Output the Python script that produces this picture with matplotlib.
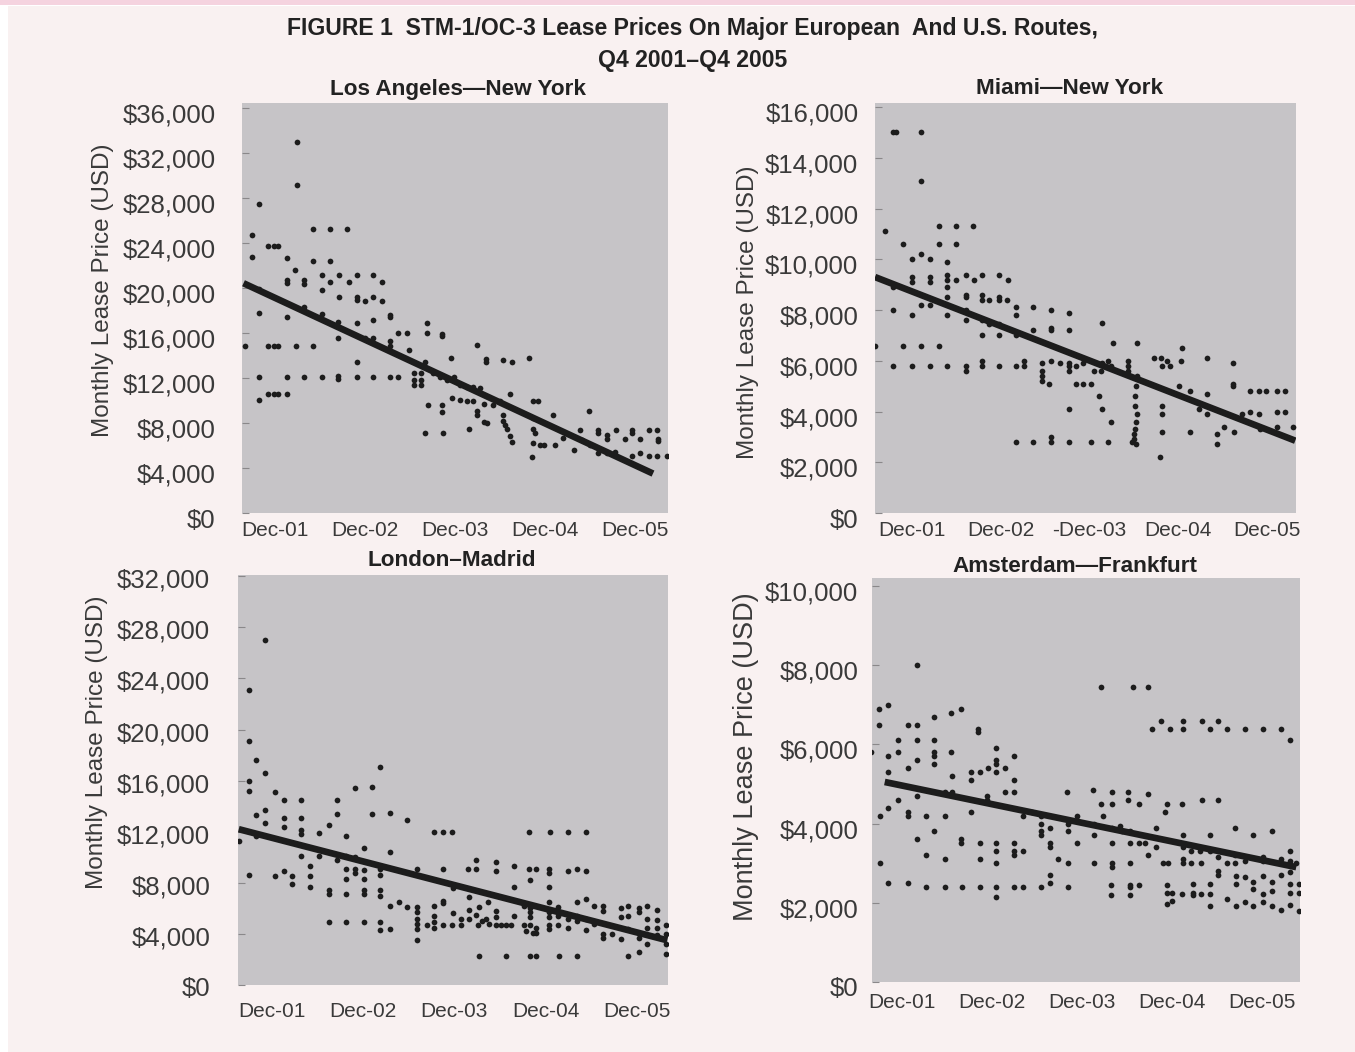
import numpy as np
import matplotlib
matplotlib.use('Agg')
import matplotlib.pyplot as plt
from matplotlib.patches import Rectangle
from matplotlib.transforms import ScaledTranslation

# months since Dec-01, monthly lease price in USD
months_ticks = [0, 12, 24, 36, 48]
month_labels = ['Dec-01', 'Dec-02', 'Dec-03', 'Dec-04', 'Dec-05']
month_labels_mia = ['Dec-01', 'Dec-02', '-Dec-03', 'Dec-04', 'Dec-05']

la_ny = [(2.9,32900),(2.9,29100),(-2.1,27400),(-3.1,24700),(-3.1,22700),
         (-0.9,23700),(-0.2,23700),(0.4,23700),(1.6,22600),
         (5.0,25200),(7.3,25200),(9.6,25200),(5.0,22400),(7.3,22400),(2.7,21600),
         (1.6,20700),(1.6,20400),(3.9,20700),(3.9,20300),(6.2,21100),(6.2,19800),(7.3,20500),(8.5,21100),
         (9.8,20500),(10.9,21100),(13.1,21100),(14.2,20500),
         (8.5,19200),(10.9,19200),(10.9,18900),(12.0,18800),(13.1,19200),(14.2,18800),
         (-2.1,19900),(-2.1,17800),(1.6,17400),(3.9,18300),(6.2,17700),(8.4,17000),(10.9,16900),
         (13.1,17100),(15.3,17600),(15.3,17400),
         (8.4,15500),(12.0,15500),(13.1,15500),(15.3,15300),(15.3,14800),(16.4,16000),(17.6,16000),(17.8,14500),
         (-4.0,14800),(-0.9,14800),(-0.2,14800),(0.4,14800),(2.8,14800),(5.0,14800),
         (-2.1,12100),(1.6,12100),(3.9,12100),(6.2,12100),(8.4,12200),(8.4,11900),(10.9,12100),(13.1,12100),
         (15.3,12100),(16.4,12100),(10.9,13400),
         (-2.1,10000),(-0.9,10600),(-0.2,10600),(0.4,10600),(1.6,10600),
         (20.2,16900),(20.2,16000),(22.2,15900),(22.2,15700),
         (18.5,12400),(18.5,11800),(18.5,11400),(19.5,12400),(19.5,11800),(19.5,11400),(20.0,13400),
         (21.1,12400),(22.0,12100),(22.9,11800),(23.8,12100),(23.4,13800),
         (24.7,11400),(25.6,11200),(26.4,11200),(27.3,11100),(26.9,14900),(28.1,13700),(28.1,13400),
         (30.4,13600),(31.6,13400),(33.8,13800),
         (23.6,10200),(24.7,10000),(25.6,9900),(26.4,9900),(27.8,9700),(29.1,9600),(30.0,9900),
         (22.2,9600),(22.2,9000),(20.4,9600),(26.9,9100),(26.9,8700),(27.8,8100),(28.2,8000),
         (30.4,8700),(30.4,8200),(30.7,7800),(30.9,7500),(31.3,6800),(31.6,6300),(31.3,10600),
         (20.0,7100),(22.4,7100),(25.9,7500),
         (34.4,9900),(35.1,9900),(34.4,8400),(34.4,7500),(34.7,7100),(34.4,6200),(35.3,6000),(35.8,6000),(34.2,5000),
         (37.1,8700),(37.3,6000),(38.4,6700),(39.8,5600),(40.7,7400),(40.9,6500),(41.8,9100),(42.0,6000),
         (43.1,7400),(43.1,7100),(43.1,5300),(44.2,5300),(45.3,5400),(44.2,6900),(44.2,6600),(45.5,7400),
         (46.7,6600),(47.6,7400),(47.6,7100),(48.7,6600),(49.8,7400),(50.9,7400),(51.1,6600),(51.1,6400),
         (47.6,5100),(48.7,5300),(49.8,5100),(50.9,5100),(52.2,5100)]
la_ny_trend_x = [-4.2, 50.4]
la_ny_trend_y = [20400, 3500]

mia_ny = [(-2.5,15000),(-2.2,15000),(1.2,15000),(1.2,13100),(-3.6,11100),(-1.2,10600),
          (3.6,11300),(5.9,11300),(8.3,11300),(3.6,10600),(5.9,10600),
          (0.0,10000),(1.2,10200),(2.4,10000),(4.8,9900),(4.8,9400),(4.8,9200),(4.8,8900),
          (0.0,9300),(0.0,9100),(2.4,9300),(2.4,9100),(-2.5,8900),
          (5.9,9200),(7.3,9400),(8.4,9200),(9.5,9400),(11.8,9400),(13.0,9200),
          (4.8,8500),(7.3,8600),(7.3,8500),(9.5,8600),(9.5,8400),(10.5,8400),(11.8,8500),(11.8,8400),(12.9,8400),
          (1.2,8200),(2.4,8200),(-2.5,8000),(0.0,7800),(4.8,7800),(7.3,8000),(7.3,7600),(9.5,7600),
          (10.5,7450),(11.8,7450),(9.5,7000),(11.8,7000),
          (14.1,8100),(14.1,7800),(14.1,7000),(16.4,8100),(18.8,8000),(18.8,7300),(18.8,7200),(16.4,7200),
          (21.3,7900),(21.3,7200),(25.8,7500),
          (-5.0,6600),(-1.2,6600),(1.2,6600),(3.6,6600),
          (-2.5,5800),(0.0,5800),(2.4,5800),(4.8,5800),(7.3,5800),(7.3,5600),(9.5,6000),(9.5,5800),
          (11.8,5800),(14.1,5800),(15.2,5800),(15.2,6000),
          (17.6,5900),(17.6,5600),(17.6,5400),(17.6,5200),(18.6,5100),
          (18.8,6000),(20.0,5900),(21.3,5900),(21.3,5800),(21.3,5600),(22.2,5800),(23.1,5900),
          (22.2,5100),(23.1,5100),(24.2,5100),(24.7,5600),(25.6,5600),(25.8,5900),(26.5,6000),(27.0,5800),
          (27.2,6700),(30.5,6700),(29.3,6000),(29.3,5800),(29.3,5600),(30.5,5400),(30.3,5000),
          (32.8,6100),(33.7,6100),(34.6,6000),(33.9,5800),(35.0,5800),(36.5,6500),(36.4,6000),(40.0,6100),(43.5,5900),
          (36.1,5000),(37.7,4800),(40.0,4700),(43.5,5100),(43.5,5000),
          (45.8,4800),(47.0,4800),(48.0,4800),(49.4,4800),(50.5,4800),
          (21.2,4100),(25.3,4600),(25.8,4100),(27.0,3600),
          (30.2,4600),(30.2,4200),(30.5,3900),(30.3,3600),(30.2,3300),(30.0,3100),(30.0,2900),(30.3,2700),
          (33.9,4200),(33.9,3900),(33.9,3200),(37.7,3200),(38.8,4100),(40.0,3900),
          (41.3,3100),(41.3,2700),(42.2,3400),(43.6,3200),
          (44.7,3900),(45.8,4000),(47.0,3900),(49.4,4000),(50.5,4000),(47.1,3300),(49.4,3400),(51.6,3400),
          (14.1,2800),(16.4,2800),(18.8,3000),(18.8,2800),(21.3,2800),(24.2,2800),(26.5,2800),(29.8,2800),
          (33.6,2200)]
mia_ny_trend_x = [-5.0, 51.9]
mia_ny_trend_y = [9300, 2850]

lon_mad = [(-0.8,27000),(-3.0,23100),(-3.0,19100),(-2.0,17600),(-0.8,16600),(-3.0,16000),(-3.0,15200),
           (-2.0,13300),(-0.8,13700),(-0.8,12700),(0.4,15100),(1.6,14500),(3.9,14500),
           (1.6,13100),(1.6,12400),(3.9,13100),(3.9,12100),(3.9,11800),(6.2,11900),(7.5,12500),
           (8.6,14500),(8.6,13400),(11.0,15400),(13.2,15500),(13.2,13400),(14.3,17100),(9.8,11700),
           (15.6,13500),(15.6,10400),(17.8,12900),
           (-4.3,11300),(-2.0,11700),(-3.0,8600),(0.4,8500),(1.6,8900),(2.7,8500),(2.7,7900),
           (3.9,10100),(5.0,9300),(5.0,8500),(5.0,7700),(6.2,10100),(7.5,7400),(7.5,7100),
           (8.6,9800),(9.8,10100),(11.0,10000),(9.8,9100),(9.8,8300),(9.8,7100),(11.0,9100),(11.0,8800),
           (12.1,10700),(12.1,9000),(12.1,8300),(12.1,7400),(12.1,7100),
           (14.3,9100),(14.3,8600),(14.3,7400),(14.3,7000),
           (7.5,4900),(9.8,4900),(12.1,4900),(14.3,4900),(14.3,4300),(15.6,4400),
           (15.6,6200),(16.7,6500),
           (17.8,6100),(19.1,6100),(19.1,5700),(19.1,5200),(19.1,4800),(19.1,4400),(19.1,3500),(19.1,9100),
           (21.4,12000),(22.5,12000),(23.7,12000),(22.5,9100),
           (21.4,6200),(21.4,5400),(21.4,4900),(21.4,4500),(22.5,6600),(22.5,6400),
           (20.4,4700),(22.5,4700),(23.7,4700),(24.9,4700),(23.8,5600),(24.9,5200),(23.8,7600),
           (25.8,9100),(26.9,9800),(26.9,9100),
           (26.0,6900),(26.0,5900),(26.0,5200),(26.9,5500),(27.1,4700),(27.6,5000),(28.2,5200),(28.6,4800),
           (29.5,5300),(29.5,4700),(30.2,4700),(30.8,4700),(31.5,4700),
           (27.3,6100),(28.4,6500),(29.5,9600),(29.5,8900),(29.5,5800),(31.9,9300),(31.9,7700),(31.9,5400),
           (33.9,12000),(33.9,9100),(34.7,9100),(34.0,8200),
           (33.2,6200),(34.0,6000),(34.0,5700),(34.0,5300),(33.2,4700),(34.0,4700),(34.7,4500),(33.4,4200),
           (34.3,4100),(34.7,4100),
           (27.3,2300),(30.8,2300),(34.0,2300),(34.8,2300),(37.8,2300),(40.1,2300),
           (36.6,12000),(39.0,12000),(41.3,12000),
           (36.4,9100),(36.4,8800),(36.4,7700),(38.9,8900),(40.1,9100),(41.3,8900),
           (36.4,6500),(36.4,5700),(36.4,5300),(36.4,4700),(36.4,4400),
           (37.6,6100),(37.6,5400),(37.6,4700),(39.0,5200),(39.0,4500),
           (40.1,6500),(40.1,5400),(40.1,5000),(41.3,6700),(41.3,5200),(41.3,4300),
           (42.4,6200),(42.4,4800),(43.5,6200),(43.5,5800),(43.5,4000),(43.5,3700),(44.8,4000),
           (45.9,6000),(45.9,5300),(45.9,3600),(46.9,6200),(46.9,5400),(46.9,4400),(46.9,2300),
           (48.3,6000),(48.3,5700),(48.3,3700),(48.3,2600),(49.4,6200),(49.4,5200),(49.4,4500),(49.4,3200),
           (50.6,5900),(50.6,5100),(50.6,4500),(50.6,3900),
           (51.8,4700),(51.8,4000),(51.8,3200),(51.8,2400)]
lon_mad_trend_x = [-4.3, 52.0]
lon_mad_trend_y = [12200, 3500]

ams_fra = [(2.0,8000),(-3.0,6900),(-1.9,7000),(-3.0,6500),(-4.1,5800),(0.8,6500),(2.0,6500),
           (4.3,6700),(6.6,6800),(7.9,6900),
           (-0.5,6100),(2.0,6100),(4.3,6100),(-0.5,5800),(4.3,5800),(4.3,5700),(6.6,5800),
           (-1.9,5700),(0.8,5400),(2.0,5600),(4.3,5500),
           (10.2,6400),(10.2,6300),(12.6,5900),(12.6,5600),(12.6,5500),(15.0,5700),(15.0,5100),(15.0,4800),
           (6.7,5200),(9.2,5300),(10.4,5300),(11.5,5400),(12.6,5300),(13.7,5400),(9.2,5100),(-1.9,5300),
           (5.7,4800),(6.7,4800),(11.4,4700),(11.4,4600),(13.7,4800),(-0.5,4600),(2.0,4700),
           (-2.9,4200),(-1.9,4400),(0.8,4300),(0.8,4200),(3.2,4200),(5.7,4200),(9.2,4300),(16.2,4200),
           (17.3,4300),(18.6,4200),(18.6,4000),(18.6,3800),(18.6,3700),(19.7,3900),(22.2,4000),(22.2,3800),(23.3,4200),
           (2.0,3600),(4.3,3800),(7.9,3600),(7.9,3500),(10.4,3500),(12.6,3500),(12.6,3300),(15.0,3500),
           (15.0,3300),(15.0,3200),(16.2,3300),
           (3.2,3200),(5.7,3100),(10.4,3100),(12.6,3000),(19.7,3500),(19.7,3400),(20.8,3100),(22.2,3000),
           (23.3,3500),(-2.9,3000),
           (-1.9,2500),(0.8,2500),(3.2,2400),(5.7,2400),(8.0,2400),(10.4,2400),(12.6,2400),(15.0,2400),
           (16.2,2400),(18.6,2400),(19.7,2500),(22.2,2400),
           (12.6,2150),(19.7,2700),
           (22.0,4800),(25.5,4850),(26.6,7450),(30.8,7450),(32.8,7450),
           (26.6,4500),(28.0,4800),(28.0,4500),(30.2,4800),(30.2,4600),(31.6,4500),(32.8,4750),
           (25.6,4000),(25.6,3700),(26.8,4200),(28.0,3900),(29.1,3950),(28.0,3500),
           (29.3,3800),(30.4,3800),(30.4,3500),(31.6,3500),(32.4,3500),
           (25.6,3000),(28.0,3000),(28.0,2900),(30.4,3000),(32.8,3200),
           (27.9,2450),(27.9,2200),(30.4,2450),(30.4,2400),(30.4,2200),(31.6,2450),
           (33.3,6400),(34.6,6600),(35.7,6400),(37.5,6600),(37.5,6400),(40.0,6600),(41.1,6400),(42.2,6600),
           (43.3,6400),(45.7,6400),(48.2,6400),(50.5,6400),(51.7,6100),
           (35.3,4500),(35.1,4300),(37.3,4500),(40.0,4600),(42.2,4600),
           (33.9,3900),(33.9,3400),(37.5,3700),(41.1,3700),(37.5,3400),(37.5,3100),(38.6,3300),(39.7,3300),
           (41.1,3300),(42.2,3150),(42.2,2800),(42.2,2700),
           (34.8,3000),(35.5,3000),(37.5,3000),(38.6,3000),(39.9,3000),
           (43.3,3000),(44.4,3200),(44.4,3000),(44.4,3900),(46.8,3700),(49.3,3800),
           (45.7,3050),(48.2,3150),(48.2,3050),(50.6,3100),(50.6,3000),(51.7,3300),(51.7,3050),(52.6,3000),
           (35.3,2450),(35.3,2250),(35.3,1970),(36.0,2250),(36.0,2050),(37.3,2230),(38.8,2470),(38.8,2250),
           (39.9,2230),(41.1,2470),(41.1,2230),(38.8,2190),
           (41.1,1920),(43.3,2090),
           (44.6,2680),(44.6,2470),(45.7,2660),(46.8,2520),(46.8,2350),(48.2,2680),(48.2,2220),(49.3,2520),
           (49.3,2290),(50.6,2710),(51.7,2770),(51.7,2470),(51.7,2240),(52.9,2470),(52.9,2240),
           (44.6,1920),(45.7,2010),(46.8,1920),(48.2,2010),(49.3,1920),(50.5,1810),(51.7,1950),(52.9,1780)]
ams_fra_trend_x = [-2.3, 52.6]
ams_fra_trend_y = [5050, 2900]

W, H = 1355, 1052
BG = '#f9f1f1'
PANEL = '#c6c4c7'
INK = '#1c1c1c'
TXT = '#3a3a3a'
BOLD_FAM = ['Liberation Sans', 'DejaVu Sans']
REG_FAM = ['Liberation Sans', 'DejaVu Sans']

fig = plt.figure(figsize=(W / 100, H / 100), dpi=100, facecolor='white')
fig.patches.append(Rectangle((8 / W, 0), 1 - 8 / W, 1 - 6 / H, transform=fig.transFigure,
                             facecolor=BG, edgecolor='none', zorder=-10))
fig.patches.append(Rectangle((0, 1 - 5 / H), 1, 5 / H, transform=fig.transFigure,
                             facecolor='#f5d3df', edgecolor='none', zorder=-9))


def px_box(x0, y0, x1, y1):
    return [x0 / W, 1 - y1 / H, (x1 - x0) / W, (y1 - y0) / H]


def panel(box, pts, tx, ty, ytop, ystep, xlim, xlabels, ypad, ydrop, xpad):
    ax = fig.add_axes(px_box(*box))
    ax.set_facecolor(PANEL)
    d = np.array(pts)
    ax.scatter(d[:, 0], d[:, 1], s=17, marker='o', color=INK, linewidths=0, zorder=3)
    ax.plot(tx, ty, color=INK, lw=4.8, solid_capstyle='butt', zorder=4)
    ax.set_xlim(*xlim)
    ax.set_ylim(0, ytop)
    yt = np.arange(0, ytop, ystep)
    ax.set_yticks(yt)
    ax.set_yticklabels(['${:,.0f}'.format(v) for v in yt], family=REG_FAM, fontsize=18.5, color=TXT)
    ax.set_xticks(months_ticks)
    ax.set_xticklabels(xlabels, family=REG_FAM, fontsize=15, color=TXT)
    ax.tick_params(axis='y', direction='in', length=5, color='#8a888a', pad=ypad)
    ax.tick_params(axis='x', length=0, pad=xpad)
    shift = ScaledTranslation(0, -ydrop / 100, fig.dpi_scale_trans)
    for lab in ax.get_yticklabels():
        lab.set_transform(lab.get_transform() + shift)
    for s in ax.spines.values():
        s.set_visible(False)
    return ax


panel((242, 103, 668, 513), la_ny, la_ny_trend_x, la_ny_trend_y, 36400, 4000, (-4.4, 52.4), month_labels, 19, 5, 6)
panel((875, 103, 1296, 513), mia_ny, mia_ny_trend_x, mia_ny_trend_y, 16160, 2000, (-5.0, 52.0), month_labels_mia, 12, 5, 6)
panel((238, 575, 668, 985), lon_mad, lon_mad_trend_x, lon_mad_trend_y, 32100, 4000, (-4.4, 52.1), month_labels, 20, 2, 12)
panel((872, 578, 1300, 982), ams_fra, ams_fra_trend_x, ams_fra_trend_y, 10200, 2000, (-4.0, 53.1), month_labels, 10, 5, 8)

# titles
fig.text(693 / W, 1 - 28 / H, 'FIGURE 1  STM-1/OC-3 Lease Prices On Major European  And U.S. Routes,',
         ha='center', va='center', family=BOLD_FAM, fontweight='bold', fontsize=16.6, color='#222222')
fig.text(693 / W, 1 - 60 / H, 'Q4 2001\u2013Q4 2005',
         ha='center', va='center', family=BOLD_FAM, fontweight='bold', fontsize=16.6, color='#222222')
for tx_, ty_, label in [(458, 89, 'Los Angeles\u2014New York'), (1070, 89, 'Miami\u2014New York'),
                        (452, 560, 'London\u2013Madrid'), (1075, 566, 'Amsterdam\u2014Frankfurt')]:
    fig.text(tx_ / W, 1 - ty_ / H, label, ha='center', va='center', family=BOLD_FAM,
             fontweight='bold', fontsize=16.2, color='#222222')

for lx, ly, fs in [(103, 290, 17.5), (748, 312, 17.5), (97, 742, 17.5), (746, 757, 19.5)]:
    fig.text(lx / W, 1 - ly / H, 'Monthly Lease Price (USD)', rotation=90, ha='center', va='center',
             family=REG_FAM, fontsize=fs, color=TXT)

fig.savefig('out.png', dpi=100, facecolor=fig.get_facecolor())
